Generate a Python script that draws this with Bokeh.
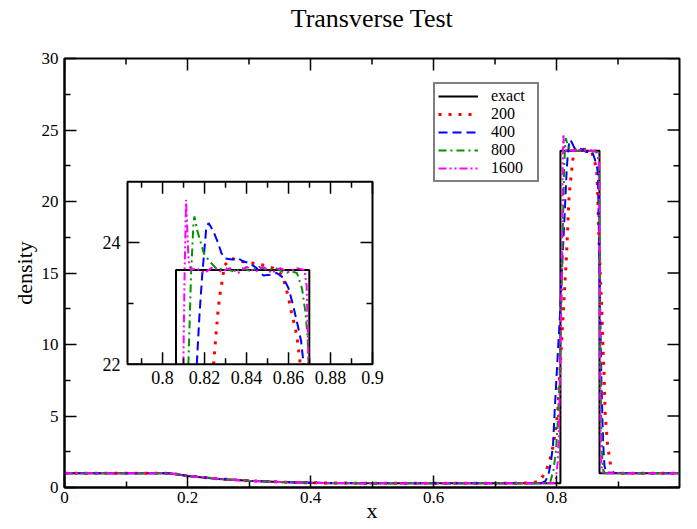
import math
from bokeh.plotting import figure
from bokeh.models import Range1d, FixedTicker, Legend, LegendItem, LinearAxis
from bokeh.core.properties import value
from bokeh.embed import file_html
from bokeh.resources import INLINE

FONT = "Liberation Serif"

# ---------------- data ----------------
title_text = "Transverse Test"
x_label = "x"
y_label = "density"

exact_x = [0.0, 0.171, 0.2, 0.25, 0.3, 0.35, 0.4, 0.43, 0.8064, 0.8064, 0.8064,
           0.8699, 0.8699, 0.8699, 1.0]
exact_y = [1.0, 1.0, 0.80, 0.60, 0.47, 0.38, 0.33, 0.30, 0.30, 22.0, 23.55,
           23.55, 22.0, 1.0, 1.0]

n200_x = [0.0, 0.15, 0.165, 0.18, 0.2, 0.25, 0.3, 0.35, 0.4, 0.45, 0.5, 0.6, 0.7, 0.76,
          0.773, 0.783, 0.789, 0.795, 0.799, 0.802, 0.805, 0.808, 0.812, 0.816, 0.8206,
          0.8243, 0.8248, 0.8256, 0.8264, 0.8272, 0.828, 0.8288, 0.8296, 0.8328, 0.8376,
          0.8432, 0.848, 0.8528, 0.8568, 0.8584, 0.86, 0.8616, 0.8632, 0.8643, 0.8656,
          0.867, 0.869, 0.871, 0.8737, 0.8755, 0.8775, 0.879, 0.883, 0.887, 0.891, 0.9, 1.0]
n200_y = [1.0, 1.0, 0.99, 0.95, 0.81, 0.61, 0.47, 0.38, 0.33, 0.31, 0.30, 0.30, 0.30, 0.31,
          0.46, 1.16, 1.9, 3.0, 4.2, 5.3, 7.7, 10.0, 13.0, 16.0, 20.5,
          22.0, 22.22, 22.55, 22.87, 23.12, 23.28, 23.47, 23.63, 23.74, 23.69,
          23.66, 23.63, 23.58, 23.47, 23.31, 23.09, 22.82, 22.6, 22.38, 22.0,
          20.5, 17.5, 15.0, 12.3, 10.0, 7.7, 5.3, 3.0, 1.8, 1.05, 1.0, 1.0]

n400_x = [0.0, 0.15, 0.165, 0.18, 0.2, 0.25, 0.3, 0.35, 0.4, 0.45, 0.5, 0.6, 0.7, 0.775,
          0.782, 0.787, 0.791, 0.7944, 0.797, 0.800, 0.803, 0.806, 0.8095, 0.8135,
          0.8163, 0.8176, 0.8189, 0.8208, 0.8219, 0.824, 0.8264, 0.828, 0.8296, 0.833,
          0.836, 0.8384, 0.8416, 0.8448, 0.848, 0.8512, 0.8544, 0.8576, 0.86, 0.8621,
          0.864, 0.866, 0.8672, 0.8685, 0.870, 0.8715, 0.873, 0.8745, 0.876, 0.878,
          0.881, 0.9, 1.0]
n400_y = [1.0, 1.0, 0.99, 0.95, 0.81, 0.61, 0.47, 0.38, 0.33, 0.31, 0.30, 0.30, 0.30, 0.30,
          0.45, 0.9, 1.8, 3.0, 5.3, 7.7, 10.0, 12.3, 15.8, 19.3,
          22.0, 22.82, 23.47, 24.23, 24.32, 24.2, 24.0, 23.83, 23.74, 23.72,
          23.74, 23.69, 23.66, 23.58, 23.46, 23.47, 23.5, 23.42, 23.25, 22.98,
          22.7, 22.38, 22.0, 19.0, 15.0, 11.0, 7.5, 5.0, 3.0, 1.5,
          1.05, 1.0, 1.0]

n800_x = [0.0, 0.15, 0.165, 0.18, 0.2, 0.25, 0.3, 0.35, 0.4, 0.45, 0.5, 0.6, 0.7, 0.785,
          0.79, 0.795, 0.799, 0.802, 0.8045, 0.8065, 0.8085, 0.8105, 0.8123, 0.8136,
          0.8147, 0.8152, 0.8165, 0.8197, 0.8224, 0.826, 0.83, 0.834, 0.838, 0.842,
          0.846, 0.85, 0.854, 0.858, 0.862, 0.864, 0.8664, 0.868, 0.8691, 0.8696,
          0.870, 0.8705, 0.871, 0.872, 0.873, 0.8745, 0.876, 0.879, 1.0]
n800_y = [1.0, 1.0, 0.99, 0.95, 0.81, 0.61, 0.47, 0.38, 0.33, 0.31, 0.30, 0.30, 0.30, 0.30,
          0.4, 1.2, 2.5, 4.5, 7.0, 10.0, 14.0, 18.5, 22.0, 23.5,
          24.3, 24.43, 24.2, 23.82, 23.69, 23.56, 23.58, 23.52, 23.58, 23.53,
          23.6, 23.55, 23.58, 23.5, 23.52, 23.5, 23.25, 22.87, 22.44, 22.0,
          19.0, 15.0, 11.0, 7.0, 4.0, 2.0, 1.2, 1.0, 1.0]

n1600_x = [0.0, 0.15, 0.165, 0.18, 0.2, 0.25, 0.3, 0.35, 0.4, 0.45, 0.5, 0.6, 0.7, 0.795,
           0.799, 0.802, 0.804, 0.8055, 0.807, 0.8085, 0.8095, 0.8099, 0.8105, 0.8112,
           0.8118, 0.8124, 0.8135, 0.816, 0.82, 0.824, 0.828, 0.832, 0.836, 0.84,
           0.844, 0.848, 0.852, 0.856, 0.86, 0.864, 0.8676, 0.8686, 0.8692, 0.8695,
           0.870, 0.8705, 0.871, 0.8715, 0.8725, 0.874, 0.876, 1.0]
n1600_y = [1.0, 1.0, 0.99, 0.95, 0.81, 0.61, 0.47, 0.38, 0.33, 0.31, 0.30, 0.30, 0.30, 0.30,
           0.6, 1.8, 4.0, 7.5, 11.0, 15.5, 19.0, 22.0, 23.5, 24.70,
           24.2, 23.7, 23.55, 23.58, 23.5, 23.6, 23.52, 23.58, 23.5, 23.6,
           23.52, 23.6, 23.5, 23.58, 23.52, 23.58, 23.55, 23.3, 22.5, 22.0,
           18.0, 13.0, 8.0, 4.5, 2.0, 1.2, 1.0, 1.0]

series_labels = ["exact", "200", "400", "800", "1600"]
series_x = [exact_x, n200_x, n400_x, n800_x, n1600_x]
series_y = [exact_y, n200_y, n400_y, n800_y, n1600_y]

# axis ranges and ticks
main_x_range = (0.0, 1.0)
main_y_range = (0.0, 30.0)
main_x_major = [0, 0.2, 0.4, 0.6, 0.8]
main_x_minor = [0.1, 0.3, 0.5, 0.7, 0.9]
main_y_major = [0, 5, 10, 15, 20, 25, 30]
main_y_minor = [2.5, 7.5, 12.5, 17.5, 22.5, 27.5]

inset_x_range = (0.7833, 0.9)
inset_y_range = (22.0, 25.0)
inset_x_major = [0.8, 0.82, 0.84, 0.86, 0.88, 0.9]
inset_x_labels = ["0.8", "0.82", "0.84", "0.86", "0.88", "0.9"]
inset_x_minor = [0.79, 0.81, 0.83, 0.85, 0.87, 0.89]
inset_y_major = [22, 24]
inset_y_labels = ["22", "24"]
inset_y_minor = [23]

# ---------------- layout (pixels) ----------------
W, H = 697, 529
FL, FR, FT, FB = 64, 679, 55, 487          # main frame edges
IL, IR, IT, IB = 127, 372, 179, 363        # inset frame edges
MAJ, MIN = 12, 6                           # tick lengths (px)
TITLE_STANDOFF = 26                        # gap between frame top and title
LEG_LEFT, LEG_BOTTOM = 433, 182            # legend box corner (px)

colors = ["black", "#ff0000", "#0000ff", "#009600", "#ff00ff"]
dashes = ["solid", "3 7", "9 5", "8 4 2 4", "8 3 2 3 2 3"]
widths = [2, 3, 2, 2, 2]

# ---------------- main figure ----------------
p = figure(width=W, height=H,
           x_range=Range1d(*main_x_range), y_range=Range1d(*main_y_range),
           output_backend="svg", toolbar_location=None,
           min_border_left=FL, min_border_right=W - FR, min_border_top=FT, min_border_bottom=H - FB,
           x_axis_label=x_label, y_axis_label=y_label)
p.grid.visible = False
p.outline_line_color = "black"
p.outline_line_width = 2
p.background_fill_color = "white"
p.border_fill_color = "white"

xax = p.below[0]
yax = p.left[0]

for ax, ticks, minor in ((xax, main_x_major, main_x_minor),
                         (yax, main_y_major, main_y_minor)):
    ax.ticker = FixedTicker(ticks=ticks, minor_ticks=minor)
    ax.major_tick_in = MAJ
    ax.major_tick_out = 0
    ax.minor_tick_in = MIN
    ax.minor_tick_out = 0
    ax.axis_line_color = "black"
    ax.axis_line_width = 2
    ax.major_tick_line_color = "black"
    ax.major_tick_line_width = 1.5
    ax.minor_tick_line_color = "black"
    ax.minor_tick_line_width = 1.5
    ax.major_label_text_font = FONT
    ax.major_label_text_font_size = "17px"
    ax.major_label_text_color = "black"
    ax.axis_label_text_font = FONT
    ax.axis_label_text_font_size = "22px"
    ax.axis_label_text_font_style = "normal"
    ax.axis_label_text_color = "black"
xax.major_label_standoff = 4
xax.axis_label_standoff = -8
yax.major_label_standoff = 6
yax.axis_label_standoff = 2

# title: carried by a tick-less axis above the frame, so it sits near the top edge
title_axis = LinearAxis(ticker=FixedTicker(ticks=[]), axis_label=title_text,
                        axis_label_standoff=TITLE_STANDOFF,
                        axis_label_text_font=FONT, axis_label_text_font_size="26px",
                        axis_label_text_font_style="normal", axis_label_text_color="black",
                        major_tick_out=0, major_tick_in=0, minor_tick_out=0, minor_tick_in=0,
                        major_label_standoff=0,
                        axis_line_color=None, major_tick_line_color=None, minor_tick_line_color=None)
p.add_layout(title_axis, "above")

tick_style = dict(line_color="black", line_width=1.5, length_units="screen")
# top and right ticks of the main frame (pointing inward)
p.ray(x=main_x_major, y=[main_y_range[1]] * len(main_x_major), length=MAJ, angle=-math.pi / 2, **tick_style)
p.ray(x=main_x_minor, y=[main_y_range[1]] * len(main_x_minor), length=MIN, angle=-math.pi / 2, **tick_style)
p.ray(x=[main_x_range[1]] * len(main_y_major), y=main_y_major, length=MAJ, angle=math.pi, **tick_style)
p.ray(x=[main_x_range[1]] * len(main_y_minor), y=main_y_minor, length=MIN, angle=math.pi, **tick_style)

renderers = []
for xs, ys, c, d, w in zip(series_x, series_y, colors, dashes, widths):
    r = p.line(xs, ys, line_color=c, line_dash=d, line_width=w, line_cap="butt")
    renderers.append(r)

# ---------------- inset (own ranges mapped onto its box) ----------------
fw, fh = FR - FL, FB - FT
sx = (IR - IL) / (inset_x_range[1] - inset_x_range[0])
sy = (IB - IT) / (inset_y_range[1] - inset_y_range[0])
ix0 = inset_x_range[0] - (IL - FL) / sx
iy0 = inset_y_range[0] - (FB - IB) / sy
p.extra_x_ranges = {"ix": Range1d(ix0, ix0 + fw / sx)}
p.extra_y_ranges = {"iy": Range1d(iy0, iy0 + fh / sy)}
IN = dict(x_range_name="ix", y_range_name="iy")

p.quad(left=[inset_x_range[0]], right=[inset_x_range[1]], bottom=[inset_y_range[0]], top=[inset_y_range[1]],
       fill_color="white", line_color=None, **IN)

for xs, ys, c, d, w in zip(series_x, series_y, colors, dashes, widths):
    pts = [(a, b) for a, b in zip(xs, ys)
           if inset_y_range[0] <= b <= inset_y_range[1] and inset_x_range[0] <= a <= inset_x_range[1]]
    p.line([a for a, _ in pts], [b for _, b in pts], line_color=c, line_dash=d, line_width=w,
           line_cap="butt", **IN)

p.quad(left=[inset_x_range[0]], right=[inset_x_range[1]], bottom=[inset_y_range[0]], top=[inset_y_range[1]],
       fill_color=None, line_color="black", line_width=2, **IN)

# inset ticks (inward on all four sides)
nx, nxm = len(inset_x_major), len(inset_x_minor)
ny, nym = len(inset_y_major), len(inset_y_minor)
p.ray(x=inset_x_major, y=[inset_y_range[0]] * nx, length=MAJ, angle=math.pi / 2, **tick_style, **IN)
p.ray(x=inset_x_minor, y=[inset_y_range[0]] * nxm, length=MIN, angle=math.pi / 2, **tick_style, **IN)
p.ray(x=inset_x_major, y=[inset_y_range[1]] * nx, length=MAJ, angle=-math.pi / 2, **tick_style, **IN)
p.ray(x=inset_x_minor, y=[inset_y_range[1]] * nxm, length=MIN, angle=-math.pi / 2, **tick_style, **IN)
p.ray(x=[inset_x_range[0]] * ny, y=inset_y_major, length=MAJ, angle=0, **tick_style, **IN)
p.ray(x=[inset_x_range[0]] * nym, y=inset_y_minor, length=MIN, angle=0, **tick_style, **IN)
p.ray(x=[inset_x_range[1]] * ny, y=inset_y_major, length=MAJ, angle=math.pi, **tick_style, **IN)
p.ray(x=[inset_x_range[1]] * nym, y=inset_y_minor, length=MIN, angle=math.pi, **tick_style, **IN)

# inset tick labels
p.text(x=inset_x_major, y=[inset_y_range[0]] * nx, text=inset_x_labels,
       text_align="center", text_baseline="top", y_offset=7,
       text_font=value(FONT), text_font_size="18px", text_color="black", **IN)
p.text(x=[inset_x_range[0]] * ny, y=inset_y_major, text=inset_y_labels,
       text_align="right", text_baseline="middle", x_offset=-7,
       text_font=value(FONT), text_font_size="18px", text_color="black", **IN)

# ---------------- legend ----------------
legend = Legend(items=[LegendItem(label=lab, renderers=[r]) for lab, r in zip(series_labels, renderers)],
                location=(LEG_LEFT - FL, FB - LEG_BOTTOM))
legend.margin = 0
legend.padding = 3
legend.spacing = 0
legend.glyph_width = 40
legend.glyph_height = 18
legend.label_height = 18
legend.label_width = 43
legend.label_standoff = 13
legend.label_text_font = FONT
legend.label_text_font_size = "16px"
legend.label_text_color = "black"
legend.border_line_color = "black"
legend.border_line_width = 2
legend.background_fill_color = "white"
legend.background_fill_alpha = 1.0
p.add_layout(legend, "center")

open("out.html", "w").write(file_html(p, INLINE))
